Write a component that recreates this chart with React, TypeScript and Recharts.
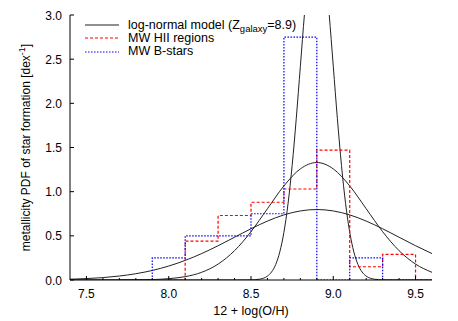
import React from 'react';
import { LineChart, Line, XAxis, YAxis, Legend, Label } from 'recharts';

// log-normal model curves
const modelX = [7.4, 7.5, 7.6, 7.7, 7.8, 7.9, 8.0, 8.1, 8.2, 8.3, 8.4, 8.5, 8.6, 8.7, 8.8, 8.9, 9.0, 9.1, 9.2, 9.3, 9.4, 9.5, 9.6];
const wideModel = [0.009, 0.016, 0.027, 0.045, 0.071, 0.108, 0.158, 0.222, 0.299, 0.388, 0.484, 0.58, 0.667, 0.737, 0.782, 0.798, 0.782, 0.737, 0.667, 0.58, 0.484, 0.388, 0.299];
const mediumModel = [0, 0, 0, 0, 0.002, 0.005, 0.015, 0.038, 0.087, 0.18, 0.332, 0.547, 0.807, 1.065, 1.258, 1.33, 1.258, 1.065, 0.807, 0.547, 0.332, 0.18, 0.087];
const narrowX = [7.4, 8.4, 8.5, 8.55, 8.6, 8.625, 8.65, 8.675, 8.7, 8.725, 8.75, 8.775, 8.8, 8.825, 8.85, 8.875, 8.9, 8.925, 8.95, 8.975, 9.0, 9.025, 9.05, 9.075, 9.1, 9.125, 9.15, 9.175, 9.2, 9.25, 9.3, 9.4, 9.6];
const narrowModel = [0, 0, 0.001, 0.009, 0.044, 0.091, 0.175, 0.318, 0.54, 0.863, 1.295, 1.827, 2.42, 3.012, 3.521, 3.867, 3.99, 3.867, 3.521, 3.012, 2.42, 1.827, 1.295, 0.863, 0.54, 0.318, 0.175, 0.091, 0.044, 0.009, 0.001, 0, 0];

// histograms (left bin edges)
const binEdges = [7.7, 7.9, 8.1, 8.3, 8.5, 8.7, 8.9, 9.1, 9.3, 9.5, 9.6];
const hiiRegions = [0, 0, 0.44, 0.73, 0.88, 1.03, 1.47, 0.15, 0.29, 0, 0];
const bStars = [0, 0.25, 0.5, 0.5, 0.75, 2.75, 0, 0.25, 0, 0, 0];

const xTicks = [7.5, 7.6, 7.7, 7.8, 7.9, 8.0, 8.1, 8.2, 8.3, 8.4, 8.5, 8.6, 8.7, 8.8, 8.9, 9.0, 9.1, 9.2, 9.3, 9.4, 9.5];
const yTicks = [0, 0.5, 1, 1.5, 2, 2.5, 3];

const legendOrder = ['model', 'hii', 'bstars'];

const toPoints = (xs: number[], ys: number[]) => xs.map((x, i) => ({ x, y: ys[i] }));

const FONT = "'Liberation Sans', Arial, Helvetica, sans-serif";
const FS = 12;
const RED = '#ff0000';
const BLUE = '#0000ff';
const isMajor = (v: number) => Math.abs(v * 2 - Math.round(v * 2)) < 1e-6;

const BottomTick = ({ x, y, payload }: any) => {
  const major = isMajor(payload.value);
  return (
    <g>
      <line x1={x} x2={x} y1={y} y2={y - (major ? 4 : 2)} stroke="#000" />
      {major && (
        <text x={x} y={y + 18} textAnchor="middle" fontFamily={FONT} fontSize={FS} fill="#000">
          {payload.value.toFixed(1)}
        </text>
      )}
    </g>
  );
};

const TopTick = ({ x, y, payload }: any) => (
  <line x1={x} x2={x} y1={y} y2={y + (isMajor(payload.value) ? 4 : 2)} stroke="#000" />
);

const LeftTick = ({ x, y, payload }: any) => (
  <g>
    <line x1={x} x2={x + 4} y1={y} y2={y} stroke="#000" />
    <text x={x - 8} y={y + 4.5} textAnchor="end" fontFamily={FONT} fontSize={FS} fill="#000">
      {payload.value.toFixed(1)}
    </text>
  </g>
);

const RightTick = ({ x, y }: any) => <line x1={x} x2={x - 4} y1={y} y2={y} stroke="#000" />;

const legendStyles: Record<string, { color: string; dash?: string }> = {
  model: { color: '#222' },
  hii: { color: RED, dash: '3 2' },
  bstars: { color: BLUE, dash: '1.5 1.5' },
};

const LegendContent = ({ payload }: any) => {
  const names = (payload || []).map((p: any) => p.value);
  const rows = legendOrder.filter((n) => names.includes(n));
  return (
    <div style={{ fontFamily: FONT, fontSize: 12.5, color: '#000' }}>
      {rows.map((key) => {
        const s = legendStyles[key];
        return (
          <div key={key} style={{ display: 'flex', alignItems: 'center', height: 13.3, whiteSpace: 'nowrap' }}>
            <svg width={46} height={13} style={{ flex: 'none', display: 'block' }}>
              <path
                d="M3 7H37"
                fill="none"
                stroke={s.color}
                strokeDasharray={s.dash}
                strokeWidth={1.2}
                style={{ stroke: s.color }}
              />
            </svg>
            <span>
              {key === 'model' && (
                <>
                  log-normal model (Z<sub style={{ fontSize: 9.5, verticalAlign: '-3px', lineHeight: 0 }}>galaxy</sub>=8.9)
                </>
              )}
              {key === 'hii' && 'MW HII regions'}
              {key === 'bstars' && 'MW B-stars'}
            </span>
          </div>
        );
      })}
    </div>
  );
};

const YLabel = ({ viewBox }: any) => {
  const cx = viewBox.x + 30;
  const cy = viewBox.y + viewBox.height / 2;
  return (
    <text x={cx} y={cy} transform={`rotate(-90 ${cx} ${cy})`} textAnchor="middle" fontFamily={FONT} fontSize={12} fill="#000">
      metallicity PDF of star formation [dex
      <tspan dy={-5} fontSize={9}>-1</tspan>
      <tspan dy={5}>]</tspan>
    </text>
  );
};

const XLabel = ({ viewBox }: any) => (
  <text x={viewBox.x + viewBox.width / 2} y={viewBox.y + 35} textAnchor="middle" fontFamily={FONT} fontSize={12.5} fill="#000">
    12 + log(O/H)
  </text>
);

export default function App() {
  return (
    <div style={{ position: 'absolute', left: 0, top: 0, width: 458, height: 321, background: '#fff' }}>
      <LineChart width={458} height={321} margin={{ top: 15, right: 26, bottom: 0, left: 0 }}>
        <XAxis
          xAxisId="x"
          type="number"
          dataKey="x"
          domain={[7.4, 9.6]}
          allowDataOverflow
          ticks={xTicks}
          interval={0}
          height={41}
          tickSize={0}
          tickMargin={0}
          tickLine={false}
          tick={<BottomTick />}
          axisLine={{ stroke: '#000' }}
        >
          <Label content={<XLabel />} />
        </XAxis>
        <XAxis
          xAxisId="top"
          orientation="top"
          type="number"
          dataKey="x"
          domain={[7.4, 9.6]}
          allowDataOverflow
          ticks={xTicks}
          interval={0}
          height={0}
          tickSize={0}
          tickMargin={0}
          tickLine={false}
          tick={<TopTick />}
          axisLine={{ stroke: '#000' }}
        />
        <YAxis
          yAxisId="y"
          type="number"
          domain={[0, 3]}
          allowDataOverflow
          ticks={yTicks}
          interval={0}
          width={70}
          tickSize={0}
          tickMargin={0}
          tickLine={false}
          tick={<LeftTick />}
          axisLine={{ stroke: '#000' }}
        >
          <Label content={<YLabel />} />
        </YAxis>
        <YAxis
          yAxisId="right"
          orientation="right"
          type="number"
          domain={[0, 3]}
          allowDataOverflow
          ticks={yTicks}
          interval={0}
          width={0}
          tickSize={0}
          tickMargin={0}
          tickLine={false}
          tick={<RightTick />}
          axisLine={{ stroke: '#000' }}
        />
        <Legend
          layout="horizontal"
          verticalAlign="middle"
          align="center"
          wrapperStyle={{ left: 82, top: 18, width: 260, height: 42 }}
          content={<LegendContent />}
        />
        <Line
          xAxisId="x"
          yAxisId="y"
          data={toPoints(modelX, wideModel)}
          dataKey="y"
          name="model"
          type="monotone"
          stroke="#222"
          strokeWidth={1}
          dot={false}
          activeDot={false}
          isAnimationActive={false}
        />
        <Line
          xAxisId="x"
          yAxisId="y"
          data={toPoints(modelX, mediumModel)}
          dataKey="y"
          name="model2"
          legendType="none"
          type="monotone"
          stroke="#222"
          strokeWidth={1}
          dot={false}
          activeDot={false}
          isAnimationActive={false}
        />
        <Line
          xAxisId="x"
          yAxisId="y"
          data={toPoints(narrowX, narrowModel)}
          dataKey="y"
          name="model3"
          legendType="none"
          type="monotone"
          stroke="#222"
          strokeWidth={1}
          dot={false}
          activeDot={false}
          isAnimationActive={false}
        />
        <Line
          xAxisId="x"
          yAxisId="y"
          data={toPoints(binEdges, hiiRegions)}
          dataKey="y"
          name="hii"
          type="stepAfter"
          stroke={RED}
          strokeWidth={1.2}
          strokeDasharray="3 2"
          dot={false}
          activeDot={false}
          isAnimationActive={false}
        />
        <Line
          xAxisId="x"
          yAxisId="y"
          data={toPoints(binEdges, bStars)}
          dataKey="y"
          name="bstars"
          type="stepAfter"
          stroke={BLUE}
          strokeWidth={1.2}
          strokeDasharray="1.5 1.5"
          dot={false}
          activeDot={false}
          isAnimationActive={false}
        />
      </LineChart>
    </div>
  );
}
